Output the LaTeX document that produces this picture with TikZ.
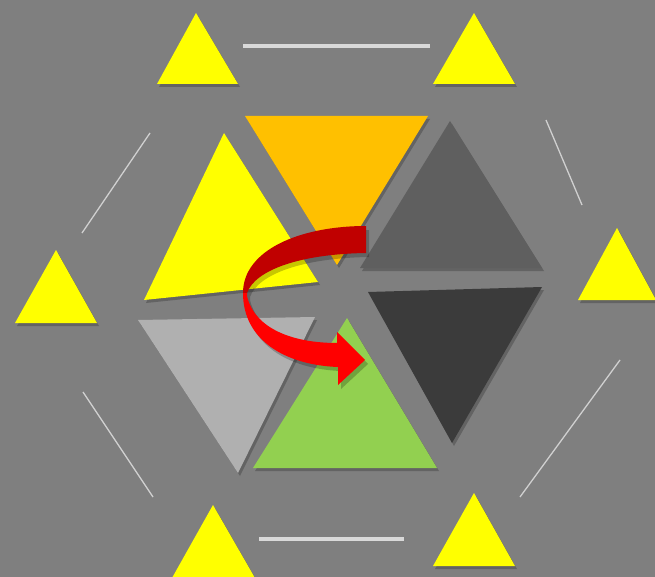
\documentclass[tikz,border=0pt]{standalone}
\begin{document}
\begin{tikzpicture}[x=1pt,y=-1pt]
\definecolor{bgc}{HTML}{7F7F7F}
\definecolor{ylw}{HTML}{FFFF00}
\definecolor{org}{HTML}{FFC000}
\definecolor{gmid}{HTML}{5F5F5F}
\definecolor{gdark}{HTML}{3B3B3B}
\definecolor{glight}{HTML}{B0B0B0}
\definecolor{grn}{HTML}{92D050}
\definecolor{dred}{HTML}{C00000}
\definecolor{bred}{HTML}{FF0000}
\definecolor{linec}{HTML}{D9D9D9}
\tikzset{
  shad/.style={fill=black,opacity=0.22},
  rule/.style={draw=linec,line width=4pt},
  thinrule/.style={draw=linec,line width=1.3pt,opacity=0.9},
}
\useasboundingbox (0,0) rectangle (655,577);
\clip (0,0) rectangle (655,577);
\fill[bgc] (0,0) rectangle (655,577);
% outer small yellow triangles
\foreach \ax/\ay/\bl/\br/\by in {196/13/157/238/84, 474/13/433/515/84, 56/250/15/97/323, 617/228/578/656/300, 213/505/172/255/578, 474/493/433/515/566}{
  \fill[shad] (\ax+2,\ay+3) -- (\br+2,\by+3) -- (\bl+2,\by+3) -- cycle;
  \fill[ylw] (\ax,\ay) -- (\br,\by) -- (\bl,\by) -- cycle;
}
% straight lines
\draw[rule] (243,46) -- (430,46);
\draw[rule] (259,539) -- (404,539);
\draw[thinrule] (150,133) -- (82,233);
\draw[thinrule] (546,120) -- (582,205);
\draw[thinrule] (83,392) -- (153,497);
\draw[thinrule] (620,360) -- (520,497);
% central triangles: shadows
\begin{scope}[shift={(2,3)}]
\fill[shad] (245,116) -- (428,116) -- (337,265) -- cycle;
\fill[shad] (224,133) -- (318,282) -- (144,300) -- cycle;
\fill[shad] (450,121) -- (542,268) -- (360,268) -- cycle;
\fill[shad] (368,292) -- (542,287) -- (452,443) -- cycle;
\fill[shad] (138,320) -- (315,317) -- (238,473) -- cycle;
\fill[shad] (347,318) -- (437,468) -- (253,468) -- cycle;
\end{scope}
\fill[org] (245,116) -- (428,116) -- (337,265) -- cycle;
\fill[ylw] (224,133) -- (318,282) -- (144,300) -- cycle;
\fill[gmid] (450,121) -- (542,268) -- (360,268) -- cycle;
\fill[gdark] (368,292) -- (542,287) -- (452,443) -- cycle;
\fill[glight] (138,320) -- (315,317) -- (238,473) -- cycle;
\fill[grn] (347,318) -- (437,468) -- (253,468) -- cycle;
% arrow shadow
\begin{scope}[shift={(3,4)}]
\fill[shad] (366,226) .. controls (300,226) and (243,250) .. (243,293)
  .. controls (243,340) and (285,365) .. (338,367) -- (338,385) -- (365,360) -- (337,332) -- (337,343)
  .. controls (295,343) and (255,330) .. (247,296) -- (247,293)
  .. controls (255,270) and (300,254) .. (366,253) -- cycle;
\end{scope}
% arrow: back (dark red) part
\fill[dred] (366,226) .. controls (300,226) and (243,250) .. (243,293) -- (247,293)
  .. controls (255,270) and (300,254) .. (366,253) -- cycle;
% arrow: front (red) part with head
\fill[bred] (243,293) .. controls (243,340) and (285,365) .. (338,367)
  -- (338,385) -- (365,360) -- (337,332) -- (337,343)
  .. controls (295,343) and (255,330) .. (247,296) -- (247,293) -- cycle;
\end{tikzpicture}
\end{document}
